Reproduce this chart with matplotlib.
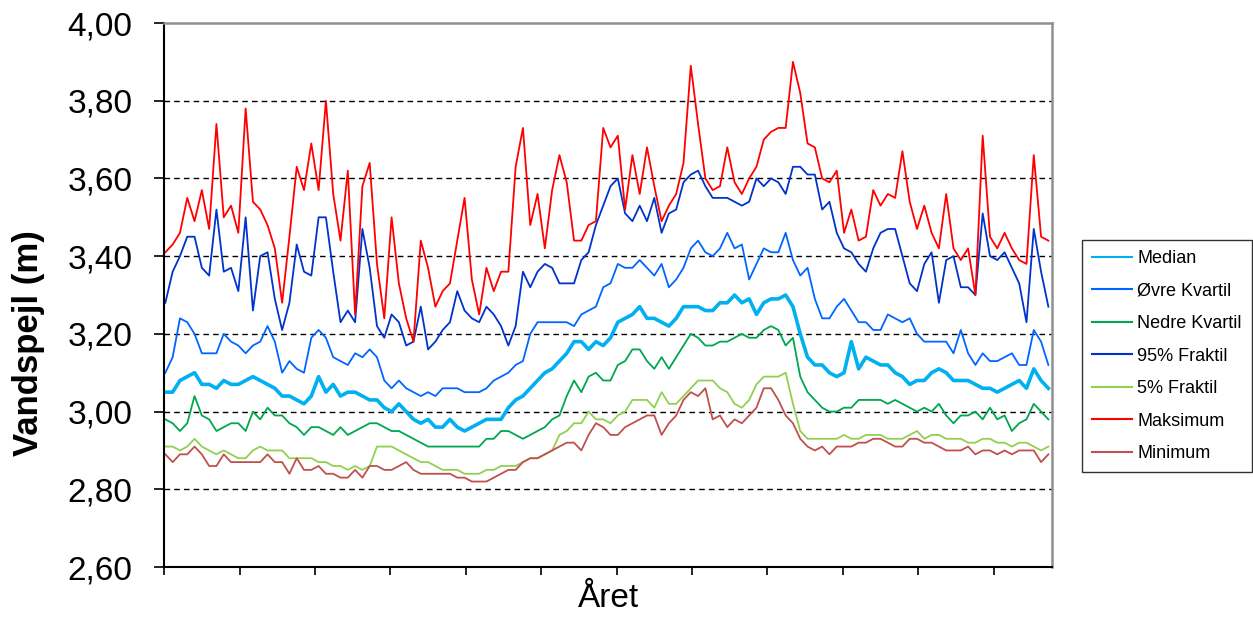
import numpy as np
import matplotlib
matplotlib.use("Agg")
import matplotlib.pyplot as plt

plt.rcParams['font.family'] = ['Liberation Sans', 'DejaVu Sans']

# dag i året (hver 3. dag)
dage = np.arange(1, 366, 3)

median = [
    3.05, 3.05, 3.08, 3.09, 3.10, 3.07, 3.07, 3.06, 3.08, 3.07, 3.07, 3.08, 3.09, 3.08, 3.07, 3.06, 3.04, 3.04, 3.03, 3.02, 3.04,
    3.09, 3.05, 3.07, 3.04, 3.05, 3.05, 3.04, 3.03, 3.03, 3.01, 3.00, 3.02, 3.00, 2.98, 2.97, 2.98, 2.96, 2.96, 2.98, 2.96, 2.95,
    2.96, 2.97, 2.98, 2.98, 2.98, 3.01, 3.03, 3.04, 3.06, 3.08, 3.10, 3.11, 3.13, 3.15, 3.18, 3.18, 3.16, 3.18, 3.17, 3.19,
    3.23, 3.24, 3.25, 3.27, 3.24, 3.24, 3.23, 3.22, 3.24, 3.27, 3.27, 3.27, 3.26, 3.26, 3.28, 3.28, 3.30, 3.28, 3.29, 3.25, 3.28,
    3.29, 3.29, 3.30, 3.27, 3.20, 3.14, 3.12, 3.12, 3.10, 3.09, 3.10, 3.18, 3.11, 3.14, 3.13, 3.12, 3.12, 3.10, 3.09,
    3.07, 3.08, 3.08, 3.10, 3.11, 3.10, 3.08, 3.08, 3.08, 3.07, 3.06, 3.06, 3.05, 3.06, 3.07, 3.08, 3.06, 3.11, 3.08, 3.06,
]

oevre_kvartil = [
    3.10, 3.14, 3.24, 3.23, 3.20, 3.15, 3.15, 3.15, 3.20, 3.18, 3.17, 3.15, 3.17, 3.18, 3.22, 3.18, 3.10, 3.13, 3.11, 3.10, 3.19,
    3.21, 3.19, 3.14, 3.13, 3.12, 3.15, 3.14, 3.16, 3.14, 3.08, 3.06, 3.08, 3.06, 3.05, 3.04, 3.05, 3.04, 3.06, 3.06, 3.06, 3.05,
    3.05, 3.05, 3.06, 3.08, 3.09, 3.10, 3.12, 3.13, 3.20, 3.23, 3.23, 3.23, 3.23, 3.23, 3.22, 3.25, 3.26, 3.27, 3.32, 3.33,
    3.38, 3.37, 3.37, 3.39, 3.37, 3.35, 3.38, 3.32, 3.34, 3.37, 3.42, 3.44, 3.41, 3.40, 3.42, 3.46, 3.42, 3.43, 3.34, 3.38, 3.42,
    3.41, 3.41, 3.46, 3.39, 3.35, 3.37, 3.29, 3.24, 3.24, 3.27, 3.29, 3.26, 3.23, 3.23, 3.21, 3.21, 3.25, 3.24, 3.23,
    3.24, 3.20, 3.18, 3.18, 3.18, 3.18, 3.15, 3.21, 3.15, 3.12, 3.15, 3.13, 3.13, 3.14, 3.15, 3.12, 3.12, 3.21, 3.18, 3.12,
]

nedre_kvartil = [
    2.98, 2.97, 2.95, 2.97, 3.04, 2.99, 2.98, 2.95, 2.96, 2.97, 2.97, 2.95, 3.00, 2.98, 3.01, 2.99, 2.99, 2.97, 2.96, 2.94, 2.96,
    2.96, 2.95, 2.94, 2.96, 2.94, 2.95, 2.96, 2.97, 2.97, 2.96, 2.95, 2.95, 2.94, 2.93, 2.92, 2.91, 2.91, 2.91, 2.91, 2.91, 2.91,
    2.91, 2.91, 2.93, 2.93, 2.95, 2.95, 2.94, 2.93, 2.94, 2.95, 2.96, 2.98, 2.99, 3.04, 3.08, 3.05, 3.09, 3.10, 3.08, 3.08,
    3.12, 3.13, 3.16, 3.16, 3.13, 3.11, 3.14, 3.11, 3.14, 3.17, 3.20, 3.19, 3.17, 3.17, 3.18, 3.18, 3.19, 3.20, 3.19, 3.19, 3.21,
    3.22, 3.21, 3.17, 3.19, 3.09, 3.05, 3.03, 3.01, 3.00, 3.00, 3.01, 3.01, 3.03, 3.03, 3.03, 3.03, 3.02, 3.03, 3.02,
    3.01, 3.00, 3.01, 3.00, 3.02, 2.99, 2.97, 2.99, 2.99, 3.00, 2.98, 3.01, 2.98, 2.99, 2.95, 2.97, 2.98, 3.02, 3.00, 2.98,
]

fraktil_95 = [
    3.28, 3.36, 3.40, 3.45, 3.45, 3.37, 3.35, 3.52, 3.36, 3.37, 3.31, 3.50, 3.26, 3.40, 3.41, 3.29, 3.21, 3.28, 3.43, 3.36, 3.35,
    3.50, 3.50, 3.36, 3.23, 3.26, 3.23, 3.47, 3.37, 3.22, 3.19, 3.25, 3.23, 3.17, 3.18, 3.27, 3.16, 3.18, 3.21, 3.23, 3.31, 3.26,
    3.24, 3.23, 3.27, 3.25, 3.22, 3.17, 3.22, 3.36, 3.32, 3.36, 3.38, 3.37, 3.33, 3.33, 3.33, 3.39, 3.41, 3.48, 3.53, 3.58,
    3.60, 3.51, 3.49, 3.53, 3.49, 3.55, 3.46, 3.51, 3.52, 3.59, 3.61, 3.62, 3.58, 3.55, 3.55, 3.55, 3.54, 3.53, 3.54, 3.60, 3.58,
    3.60, 3.59, 3.56, 3.63, 3.63, 3.61, 3.61, 3.52, 3.54, 3.46, 3.42, 3.41, 3.38, 3.36, 3.42, 3.46, 3.47, 3.47, 3.40,
    3.33, 3.31, 3.38, 3.41, 3.28, 3.39, 3.40, 3.32, 3.32, 3.30, 3.51, 3.40, 3.39, 3.41, 3.37, 3.33, 3.23, 3.47, 3.36, 3.27,
]

fraktil_5 = [
    2.91, 2.91, 2.90, 2.91, 2.93, 2.91, 2.90, 2.89, 2.90, 2.89, 2.88, 2.88, 2.90, 2.91, 2.90, 2.90, 2.90, 2.88, 2.88, 2.88, 2.88,
    2.87, 2.87, 2.86, 2.86, 2.85, 2.86, 2.85, 2.86, 2.91, 2.91, 2.91, 2.90, 2.89, 2.88, 2.87, 2.87, 2.86, 2.85, 2.85, 2.85, 2.84,
    2.84, 2.84, 2.85, 2.85, 2.86, 2.86, 2.86, 2.87, 2.88, 2.88, 2.89, 2.90, 2.94, 2.95, 2.97, 2.97, 3.00, 2.98, 2.98, 2.97,
    2.99, 3.00, 3.03, 3.03, 3.03, 3.01, 3.05, 3.02, 3.02, 3.04, 3.06, 3.08, 3.08, 3.08, 3.06, 3.05, 3.02, 3.01, 3.03, 3.07, 3.09,
    3.09, 3.09, 3.10, 3.02, 2.95, 2.93, 2.93, 2.93, 2.93, 2.93, 2.94, 2.93, 2.93, 2.94, 2.94, 2.94, 2.93, 2.93, 2.93,
    2.94, 2.95, 2.93, 2.94, 2.94, 2.93, 2.93, 2.93, 2.92, 2.92, 2.93, 2.93, 2.92, 2.92, 2.91, 2.92, 2.92, 2.91, 2.90, 2.91,
]

maksimum = [
    3.41, 3.43, 3.46, 3.55, 3.49, 3.57, 3.47, 3.74, 3.50, 3.53, 3.46, 3.78, 3.54, 3.52, 3.48, 3.42, 3.28, 3.45, 3.63, 3.57, 3.69,
    3.57, 3.80, 3.56, 3.44, 3.62, 3.25, 3.58, 3.64, 3.38, 3.24, 3.50, 3.33, 3.24, 3.18, 3.44, 3.37, 3.27, 3.31, 3.33, 3.44, 3.55,
    3.34, 3.25, 3.37, 3.31, 3.36, 3.36, 3.63, 3.73, 3.48, 3.56, 3.42, 3.57, 3.66, 3.59, 3.44, 3.44, 3.48, 3.49, 3.73, 3.68,
    3.71, 3.52, 3.66, 3.56, 3.68, 3.58, 3.49, 3.53, 3.56, 3.64, 3.89, 3.74, 3.60, 3.57, 3.58, 3.68, 3.59, 3.56, 3.60, 3.63, 3.70,
    3.72, 3.73, 3.73, 3.90, 3.82, 3.69, 3.68, 3.60, 3.59, 3.62, 3.46, 3.52, 3.44, 3.45, 3.57, 3.53, 3.56, 3.55, 3.67,
    3.54, 3.47, 3.53, 3.46, 3.42, 3.56, 3.42, 3.39, 3.42, 3.30, 3.71, 3.45, 3.42, 3.46, 3.42, 3.39, 3.38, 3.66, 3.45, 3.44,
]

minimum = [
    2.89, 2.87, 2.89, 2.89, 2.91, 2.89, 2.86, 2.86, 2.89, 2.87, 2.87, 2.87, 2.87, 2.87, 2.89, 2.87, 2.87, 2.84, 2.88, 2.85, 2.85,
    2.86, 2.84, 2.84, 2.83, 2.83, 2.85, 2.83, 2.86, 2.86, 2.85, 2.85, 2.86, 2.87, 2.85, 2.84, 2.84, 2.84, 2.84, 2.84, 2.83, 2.83,
    2.82, 2.82, 2.82, 2.83, 2.84, 2.85, 2.85, 2.87, 2.88, 2.88, 2.89, 2.90, 2.91, 2.92, 2.92, 2.90, 2.94, 2.97, 2.96, 2.94,
    2.94, 2.96, 2.97, 2.98, 2.99, 2.99, 2.94, 2.97, 2.99, 3.03, 3.05, 3.04, 3.06, 2.98, 2.99, 2.96, 2.98, 2.97, 2.99, 3.01, 3.06,
    3.06, 3.03, 2.99, 2.97, 2.93, 2.91, 2.90, 2.91, 2.89, 2.91, 2.91, 2.91, 2.92, 2.92, 2.93, 2.93, 2.92, 2.91, 2.91,
    2.93, 2.93, 2.92, 2.92, 2.91, 2.90, 2.90, 2.90, 2.91, 2.89, 2.90, 2.90, 2.89, 2.90, 2.89, 2.90, 2.90, 2.90, 2.87, 2.89,
]

serier = [
    ("Median", median, "#00B0F0", 2.6),
    ("Øvre Kvartil", oevre_kvartil, "#0066FF", 1.3),
    ("Nedre Kvartil", nedre_kvartil, "#00A650", 1.3),
    ("95% Fraktil", fraktil_95, "#0033CC", 1.3),
    ("5% Fraktil", fraktil_5, "#92D050", 1.3),
    ("Maksimum", maksimum, "#FF0000", 1.3),
    ("Minimum", minimum, "#C0504D", 1.3),
]

fig = plt.figure(figsize=(12.53, 6.17), dpi=100)
ax = fig.add_axes([0.131, 0.081, 0.7086, 0.8817])

for navn, vaerdier, farve, lw in serier:
    ax.plot(dage, vaerdier, color=farve, lw=lw, label=navn)

ax.set_xlim(0.5, 365.5)
ax.set_ylim(2.6, 4.0)

# y-akse med komma som decimaltegn
yt = np.round(np.arange(2.6, 4.01, 0.2), 2)
ax.set_yticks(yt)
ax.set_yticklabels([f"{v:.2f}".replace(".", ",") for v in yt], fontsize=24)
for v in yt[1:-1]:
    ax.axhline(v, color="black", lw=1.0, ls=(0, (4, 3)), zorder=0)

ax.set_xticks(0.5 + 31 * np.arange(12))
ax.set_xticklabels([])
ax.tick_params(axis="y", direction="out", length=7, width=1.2, pad=16)
ax.tick_params(axis="x", direction="out", length=6, width=1.2)

ax.spines["left"].set_linewidth(1.5)
ax.spines["bottom"].set_linewidth(1.5)
for s in ("top", "right"):
    ax.spines[s].set_color("#909090")
    ax.spines[s].set_linewidth(1.8)

ax.set_xlabel("Året", fontsize=24, labelpad=2)
fig.text(0.023, 0.444, "Vandspejl (m)", rotation=90, fontsize=25,
         fontweight="bold", ha="center", va="center")

leg = ax.legend(loc="upper left", bbox_to_anchor=(1082 / 1253, 1 - 240 / 617),
                bbox_transform=fig.transFigure, borderaxespad=0,
                fontsize=13, frameon=True, fancybox=False, edgecolor="black",
                handlelength=2.2, handletextpad=0.3, labelspacing=0.86,
                borderpad=0.55)
leg.get_frame().set_linewidth(1.0)
for h in leg.get_lines():
    h.set_linewidth(1.5)

fig.savefig("out.png", dpi=100)
